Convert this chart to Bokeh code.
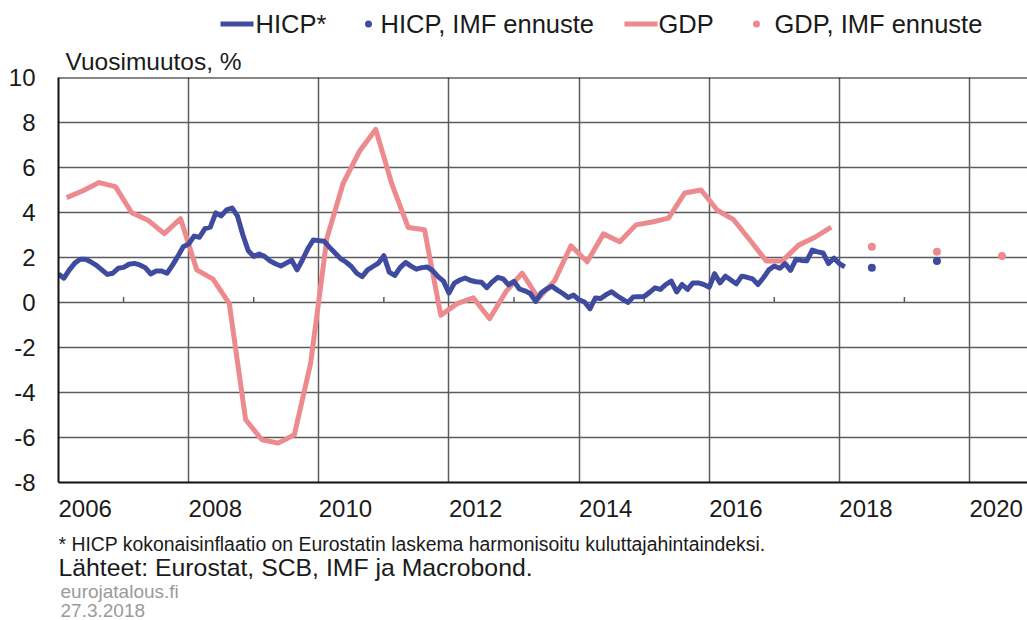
from bokeh.plotting import figure
from bokeh.layouts import column
from bokeh.models import Span, FixedTicker, Range1d, Title
from bokeh.core.properties import value
from bokeh.embed import file_html
from bokeh.resources import INLINE

# ---------------- data ----------------
# HICP, annual change %, monthly Jan 2006 - Feb 2018
hicp = [
    1.27, 1.08, 1.45, 1.75, 1.92, 1.92, 1.80, 1.65, 1.45, 1.25, 1.30, 1.52,   # 2006
    1.56, 1.70, 1.74, 1.67, 1.55, 1.27, 1.40, 1.40, 1.30, 1.65, 2.05, 2.48,   # 2007
    2.60, 2.95, 2.90, 3.28, 3.35, 3.98, 3.85, 4.12, 4.20, 3.85, 3.00, 2.30,   # 2008
    2.05, 2.15, 2.05, 1.85, 1.72, 1.62, 1.75, 1.88, 1.45, 1.90, 2.40, 2.78,   # 2009
    2.75, 2.72, 2.45, 2.20, 1.95, 1.80, 1.60, 1.30, 1.15, 1.45, 1.60, 1.75,   # 2010
    2.08, 1.35, 1.20, 1.55, 1.78, 1.62, 1.48, 1.55, 1.58, 1.42, 1.15, 0.95,   # 2011
    0.42, 0.86, 1.00, 1.09, 0.98, 0.92, 0.90, 0.66, 0.92, 1.12, 1.05, 0.78,   # 2012
    0.94, 0.60, 0.52, 0.40, 0.05, 0.42, 0.60, 0.72, 0.55, 0.40, 0.22, 0.33,   # 2013
    0.12, 0.02, -0.28, 0.20, 0.18, 0.35, 0.48, 0.30, 0.15, 0.00, 0.25, 0.26,  # 2014
    0.27, 0.45, 0.65, 0.58, 0.80, 0.95, 0.47, 0.80, 0.58, 0.87, 0.87, 0.80,   # 2015
    0.68, 1.28, 0.87, 1.17, 1.00, 0.83, 1.17, 1.12, 1.05, 0.80, 1.10, 1.45,   # 2016
    1.62, 1.52, 1.73, 1.43, 1.92, 1.87, 1.85, 2.33, 2.25, 2.20, 1.73, 1.97,   # 2017
    1.73, 1.58,                                                               # 2018
]
# GDP, annual change %, quarterly Q1 2006 - Q4 2017
gdp = [
    4.66, 4.97, 5.33, 5.15,      # 2006
    3.99, 3.66, 3.06, 3.73,      # 2007
    1.45, 1.04, -0.05, -5.20,    # 2008
    -6.10, -6.25, -5.88, -2.70,  # 2009
    2.86, 5.30, 6.72, 7.69,      # 2010
    5.25, 3.33, 3.23, -0.57,     # 2011
    -0.05, 0.21, -0.72, 0.48,    # 2012
    1.31, 0.18, 0.97, 2.52,      # 2013
    1.81, 3.05, 2.70, 3.45,      # 2014
    3.58, 3.75, 4.87, 5.00,      # 2015
    4.10, 3.68, 2.78, 1.85,      # 2016
    1.85, 2.55, 2.90, 3.35,      # 2017
]
# IMF forecasts (annual)
hicp_imf_years = [2018, 2019]
hicp_imf = [1.55, 1.85]
gdp_imf_years = [2018, 2019, 2020]
gdp_imf = [2.48, 2.26, 2.07]

year_labels = ["2006", "2008", "2010", "2012", "2014", "2016", "2018", "2020"]
grid_years = [2008, 2010, 2012, 2014, 2016, 2018, 2020]
minor_years = [2007, 2009, 2011, 2013, 2015, 2017, 2019]
y_ticks = [-8, -6, -4, -2, 0, 2, 4, 6, 8, 10]

legend_labels = ["HICP*", "HICP, IMF ennuste", "GDP", "GDP, IMF ennuste"]
footnote = "* HICP kokonaisinflaatio on Eurostatin laskema harmonisoitu kuluttajahintaindeksi."
sources = "Lähteet: Eurostat, SCB, IMF ja Macrobond."
site = "eurojatalous.fi"
date = "27.3.2018"

# x positions (decimal years)
hicp_x = [2006 + i / 12 for i in range(len(hicp))]
gdp_x = [2006 + 0.125 + 0.25 * k for k in range(len(gdp))]
hicp_imf_x = [y + 0.5 for y in hicp_imf_years]
gdp_imf_x = [y + 0.5 for y in gdp_imf_years]

BLUE = "#3E4B9E"
PINK = "#EC8A8E"
GRID = "#5c5c5c"
FONT = "Liberation Sans"
TXT = "#1a1a1a"
GREY_TXT = "#9a9a9a"

W = 1027
TOP_H, MAIN_H, FOOT_H = 40, 490, 90
FRAME_LEFT, FRAME_TOP, FRAME_BOTTOM = 58, 77, 482
PX_YEAR = 65.07


def strip_figure(height, y_top):
    # x and y in page pixels; frame aligned with the chart frame (starts at FRAME_LEFT)
    fig = figure(width=W, height=height, output_backend="svg", toolbar_location=None,
                 x_range=Range1d(FRAME_LEFT, W), y_range=Range1d(y_top + height, y_top),
                 x_axis_location=None, y_axis_location=None,
                 min_border=0, min_border_left=FRAME_LEFT, min_border_right=0,
                 min_border_top=0, min_border_bottom=0)
    fig.xgrid.visible = False
    fig.ygrid.visible = False
    fig.outline_line_color = None
    return fig


# ---------------- legend strip ----------------
top = strip_figure(TOP_H, 0)
LEG_Y = 23.5
top.segment(x0=[220], y0=[LEG_Y], x1=[253], y1=[LEG_Y], line_color=BLUE, line_width=5)
top.scatter(x=[368], y=[LEG_Y], size=7, fill_color=BLUE, line_color=None)
top.segment(x0=[624], y0=[LEG_Y], x1=[657], y1=[LEG_Y], line_color=PINK, line_width=5)
top.scatter(x=[756], y=[LEG_Y], size=7, fill_color=PINK, line_color=None)
top.text(x=[255, 380, 658, 774], y=[LEG_Y] * 4, text=legend_labels,
         text_font=value(FONT), text_font_size="25.5px", text_color=TXT,
         text_baseline="middle")

# ---------------- main chart ----------------
p = figure(width=W, height=MAIN_H, output_backend="svg", toolbar_location=None,
           x_range=Range1d(2006, 2006 + (W - FRAME_LEFT) / PX_YEAR), y_range=Range1d(-8, 10),
           min_border_left=FRAME_LEFT, min_border_right=0,
           min_border_top=FRAME_TOP - TOP_H,
           min_border_bottom=TOP_H + MAIN_H - FRAME_BOTTOM)
p.outline_line_color = None

p.title = Title(text="Vuosimuutos, %", align="left", offset=7, standoff=6,
                text_font=FONT, text_font_size="24.5px", text_font_style="normal",
                text_color=TXT)

# y axis (plain hyphen minus signs as in the original)
ya = p.yaxis[0]
ya.ticker = FixedTicker(ticks=y_ticks)
ya.major_label_overrides = {t: str(t) for t in y_ticks}
ya.axis_line_color = "#111111"
ya.axis_line_width = 2
ya.major_tick_line_color = None
ya.minor_tick_line_color = None
ya.major_tick_out = 0
ya.major_tick_in = 0
ya.major_label_standoff = 23
ya.major_label_text_font = FONT
ya.major_label_text_font_size = "24px"
ya.major_label_text_color = TXT

# x axis: labels sit inside each labelled year
xa = p.xaxis[0]
label_pos = [int(s) + 0.41 for s in year_labels]
xa.ticker = FixedTicker(ticks=label_pos)
xa.major_label_overrides = {pos: s for pos, s in zip(label_pos, year_labels)}
xa.axis_line_color = "#111111"
xa.axis_line_width = 2
xa.major_tick_line_color = None
xa.minor_tick_line_color = None
xa.major_tick_out = 0
xa.major_tick_in = 0
xa.major_label_standoff = 17
xa.major_label_text_font = FONT
xa.major_label_text_font_size = "24px"
xa.major_label_text_color = TXT

# grid
p.ygrid.ticker = FixedTicker(ticks=[-6, -4, -2, 0, 2, 4, 6, 8])
p.ygrid.grid_line_color = GRID
p.ygrid.grid_line_width = 1.5
p.xgrid.ticker = FixedTicker(ticks=grid_years)
p.xgrid.grid_line_color = GRID
p.xgrid.grid_line_width = 1.5

# top border
p.add_layout(Span(location=10, dimension="width", line_color="#111111", line_width=2))

# small ticks on the zero line at odd years
p.segment(x0=minor_years, y0=[0] * len(minor_years), x1=minor_years,
          y1=[0.24] * len(minor_years), line_color=GRID, line_width=1.5)

# series
p.line(gdp_x, gdp, line_color=PINK, line_width=5, line_join="round")
p.line(hicp_x, hicp, line_color=BLUE, line_width=5, line_join="round")
p.scatter(gdp_imf_x, gdp_imf, size=8, fill_color=PINK, line_color=None)
p.scatter(hicp_imf_x, hicp_imf, size=8, fill_color=BLUE, line_color=None)

# ---------------- footer ----------------
foot = strip_figure(FOOT_H, TOP_H + MAIN_H)
foot.text(x=[58], y=[543], text=[footnote], text_font=value(FONT), text_font_size="19.4px",
          text_color=TXT, text_baseline="middle")
foot.text(x=[58], y=[567], text=[sources], text_font=value(FONT), text_font_size="24.8px",
          text_color=TXT, text_baseline="middle")
foot.text(x=[60, 60], y=[591, 610], text=[site, date], text_font=value(FONT),
          text_font_size="19px", text_color=GREY_TXT, text_baseline="middle")

layout = column(top, p, foot, spacing=0)
open("out.html", "w").write(file_html(layout, INLINE))
